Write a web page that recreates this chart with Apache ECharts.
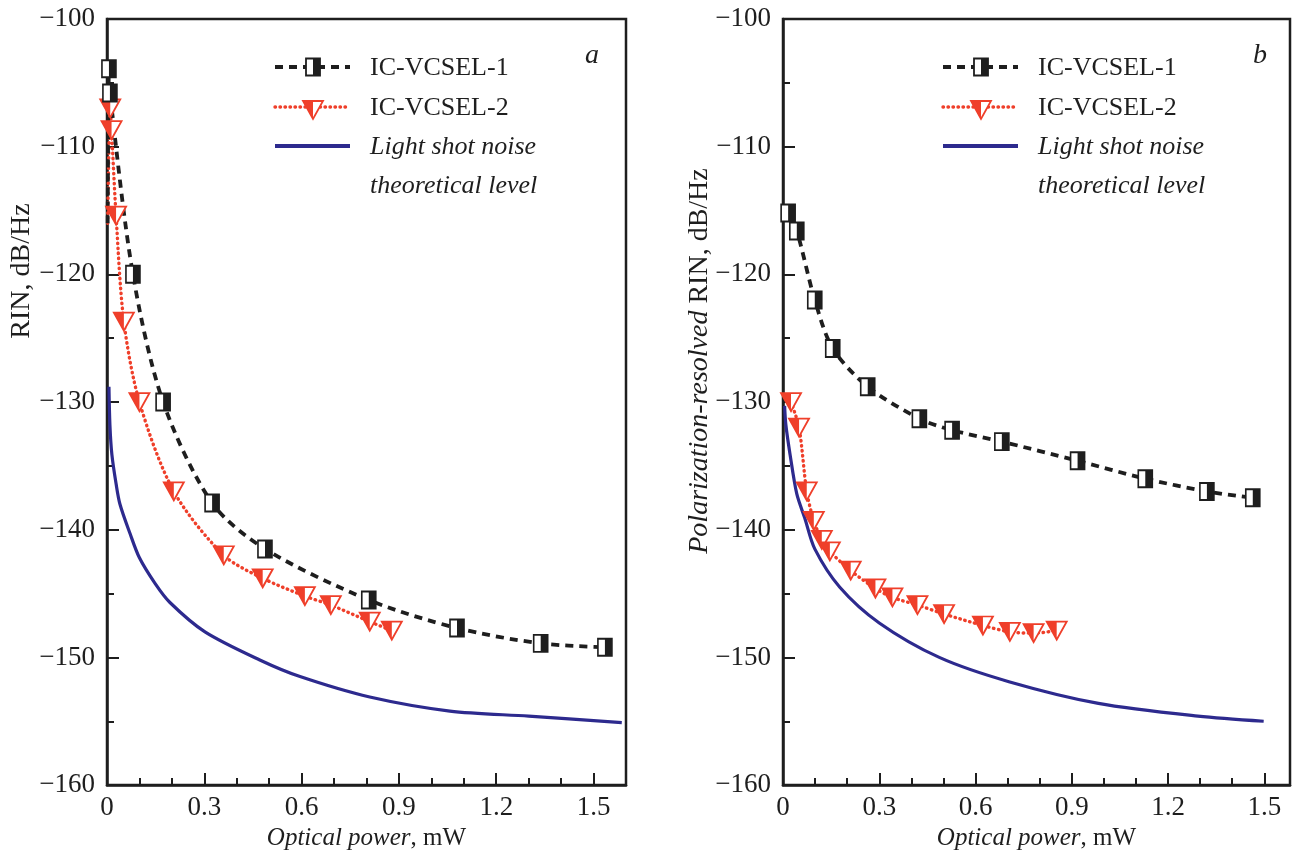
<!DOCTYPE html>
<html>
<head>
<meta charset="utf-8">
<title>RIN vs optical power</title>
<script src="https://cdn.jsdelivr.net/npm/echarts@6/dist/echarts.min.js"></script>
<style>
    html, body { margin: 0; padding: 0; background: #fff; }
    #main { width: 1293px; height: 856px; }
</style>
</head>
<body>
<div id="main"></div>
<script>
// panel a: [optical power mW, RIN dB/Hz]
var leftVcsel1 = [
    [0.006, -103.9], [0.009, -105.8], [0.08, -120.0], [0.173, -130.0], [0.324, -137.9],
    [0.487, -141.5], [0.807, -145.5], [1.079, -147.7], [1.337, -148.9], [1.535, -149.2]
];
var leftVcsel2 = [
    [0.01, -107.0], [0.014, -108.7], [0.028, -115.4], [0.052, -123.7], [0.10, -130.0],
    [0.206, -137.0], [0.36, -142.0], [0.48, -143.8], [0.61, -145.2], [0.69, -145.9],
    [0.81, -147.2], [0.878, -147.9]
];
// fitted curves of panel a start on the axis
var leftLineStart1 = [0.002, -116.0];
var leftLineStart2 = [0.002, -116.0];
var leftShotNoise = [
    [0.006, -128.8], [0.009, -131.8], [0.015, -134.1], [0.028, -136.4], [0.04, -138.0],
    [0.071, -140.3], [0.10, -142.2], [0.148, -144.2], [0.194, -145.7], [0.302, -148.0],
    [0.471, -150.2], [0.595, -151.5], [0.81, -153.1], [1.057, -154.2], [1.30, -154.6],
    [1.587, -155.1]
];

// panel b: [optical power mW, polarization-resolved RIN dB/Hz]
var rightVcsel1 = [
    [0.016, -115.2], [0.043, -116.6], [0.099, -122.0], [0.155, -125.8], [0.264, -128.8],
    [0.425, -131.3], [0.527, -132.2], [0.682, -133.1], [0.918, -134.6], [1.129, -136.0],
    [1.321, -137.0], [1.464, -137.5]
];
var rightVcsel2 = [
    [0.025, -130.0], [0.05, -132.0], [0.074, -137.0], [0.096, -139.3], [0.121, -140.8],
    [0.146, -141.7], [0.211, -143.2], [0.288, -144.6], [0.341, -145.3], [0.419, -145.9],
    [0.502, -146.6], [0.623, -147.5], [0.707, -148.0], [0.781, -148.1], [0.853, -147.9]
];
var rightShotNoise = [
    [0.005, -130.3], [0.009, -131.8], [0.022, -134.1], [0.043, -137.2], [0.068, -139.1],
    [0.099, -141.5], [0.177, -144.5], [0.30, -147.3], [0.487, -150.0], [0.704, -151.9],
    [0.983, -153.6], [1.293, -154.6], [1.498, -155.0]
];

var xMaxLeft = 1.6;
var xMaxRight = 1.58;
var xStep = 0.3;
var xMinorStep = 0.1;
var yMin = -160, yMax = -100, yStep = 10;

var legendNames = ['IC-VCSEL-1', 'IC-VCSEL-2', 'Light shot noise', 'theoretical level'];
var yTitleLeft = 'RIN, dB/Hz';
var yTitleRightItalic = 'Polarization-resolved';
var yTitleRightRest = ' RIN, dB/Hz';

var FONT = '"Liberation Serif", "DejaVu Serif", serif';
var INK = '#1e1e1e';
var RED = '#ef3f2a';
var BLUE = '#2d2a8e';

var SQ = [14, 17];     // square marker size
var TRI = [20, 18];    // triangle marker size
var TRI_PATH = 'path://M0,0 L2,0 L1,2 Z';
var TRI_HALF_PATH = 'path://M0,0 L1,0 L1,2 Z';
var DASH = [8, 6];
var DOTS = [0.5, 4.5];

function xLabel(v) {
    var k = v / xStep;
    if (Math.abs(k - Math.round(k)) > 1e-6) {
        return '';
    }
    return v === 0 ? '0' : v.toFixed(1);
}

function majorX(grid, max) {
    return {
        type: 'value', gridIndex: grid, min: 0, max: max, interval: xStep,
        name: '{i|Optical power}, mW', nameLocation: 'middle', nameGap: 37,
        nameTextStyle: {
            fontFamily: FONT, fontSize: 25, color: INK,
            rich: { i: { fontFamily: FONT, fontSize: 25, fontStyle: 'italic', color: INK } }
        },
        axisLine: { lineStyle: { color: INK, width: 2.5 } },
        axisTick: { inside: true, length: 12, lineStyle: { color: INK, width: 2 } },
        axisLabel: { formatter: xLabel, margin: 9, fontFamily: FONT, fontSize: 27, color: INK },
        splitLine: { show: false }
    };
}

function minorX(grid, max) {
    return {
        type: 'value', gridIndex: grid, min: 0, max: max, interval: xMinorStep, position: 'bottom',
        axisLine: { show: false },
        axisTick: { inside: true, length: 7, lineStyle: { color: INK, width: 2 } },
        axisLabel: { show: false },
        splitLine: { show: false }
    };
}

function yAxisFor(grid) {
    return {
        type: 'value', gridIndex: grid, min: yMin, max: yMax, interval: yStep,
        axisLine: { show: true, lineStyle: { color: INK, width: 2.5 } },
        axisTick: { inside: true, length: 12, lineStyle: { color: INK, width: 2 } },
        minorTick: { show: true, splitNumber: 2, length: 7, lineStyle: { color: INK, width: 2 } },
        axisLabel: {
            margin: 12, fontFamily: FONT, fontSize: 27, color: INK,
            formatter: function (v) { return String(v).replace('-', '\u2212'); }
        },
        splitLine: { show: false }
    };
}

function lineSeries(xi, yi, data, color, width, dash, cap) {
    return {
        type: 'line', xAxisIndex: xi, yAxisIndex: yi, data: data,
        showSymbol: false, symbol: 'none', smooth: 0.3,
        lineStyle: { color: color, width: width, type: dash, cap: cap },
        z: 2, silent: true, animation: false
    };
}

function markerSeries(xi, yi, data, symbol, size, offset, fill, stroke, z) {
    return {
        type: 'scatter', xAxisIndex: xi, yAxisIndex: yi, data: data,
        symbol: symbol, symbolSize: size, symbolOffset: offset,
        itemStyle: { color: fill, borderColor: stroke, borderWidth: stroke ? 1.8 : 0, opacity: 1 },
        z: z, silent: true, animation: false
    };
}

// one panel: two curves with half-filled markers and the shot-noise line
function panelSeries(xi, yi, v1, v1Line, v2, v2Line, noise) {
    return [
        lineSeries(xi, yi, noise, BLUE, 3.2, 'solid', 'butt'),
        lineSeries(xi, yi, v2Line, RED, 3.4, DOTS, 'round'),
        lineSeries(xi, yi, v1Line, INK, 3.8, DASH, 'butt'),
        markerSeries(xi, yi, v2, TRI_PATH, TRI, [0, 0], '#fff', RED, 3),
        markerSeries(xi, yi, v2, TRI_HALF_PATH, [TRI[0] / 2, TRI[1]], [-TRI[0] / 4, 0], RED, null, 4),
        markerSeries(xi, yi, v1, 'rect', SQ, [0, 0], '#fff', INK, 5),
        markerSeries(xi, yi, v1, 'rect', [SQ[0] / 2, SQ[1]], [SQ[0] / 4, 0], INK, null, 6)
    ];
}

// hand drawn legend, same marks as the series
function legendGraphic(x0, tag) {
    var x1 = x0 + 75, xc = x0 + 38, tx = x0 + 95;
    var txt = function (t, y, italic) {
        return {
            type: 'text', x: tx, y: y,
            style: { text: t, fontFamily: FONT, fontSize: 26, fontStyle: italic ? 'italic' : 'normal',
                fill: INK, verticalAlign: 'middle' }
        };
    };
    return [
        { type: 'line', shape: { x1: x0, y1: 67, x2: x1, y2: 67 },
          style: { stroke: INK, lineWidth: 3.8, lineDash: DASH } },
        { type: 'rect', shape: { x: xc - SQ[0] / 2, y: 67 - SQ[1] / 2, width: SQ[0], height: SQ[1] },
          style: { fill: '#fff', stroke: INK, lineWidth: 1.8 } },
        { type: 'rect', shape: { x: xc, y: 67 - SQ[1] / 2, width: SQ[0] / 2, height: SQ[1] },
          style: { fill: INK } },
        { type: 'line', shape: { x1: x0, y1: 107, x2: x1, y2: 107 },
          style: { stroke: RED, lineWidth: 3.4, lineDash: DOTS, lineCap: 'round' } },
        { type: 'polygon', shape: { points: [[xc - 10, 101], [xc + 10, 101], [xc, 119]] },
          style: { fill: '#fff', stroke: RED, lineWidth: 1.8 } },
        { type: 'polygon', shape: { points: [[xc - 10, 101], [xc, 101], [xc, 119]] },
          style: { fill: RED } },
        { type: 'line', shape: { x1: x0, y1: 146, x2: x1, y2: 146 },
          style: { stroke: BLUE, lineWidth: 4 } },
        txt(legendNames[0], 68, false),
        txt(legendNames[1], 108, false),
        txt(legendNames[2], 147, true),
        txt(legendNames[3], 186, true),
        { type: 'text', x: x0 + 317, y: 56,
          style: { text: tag, fontFamily: FONT, fontSize: 28, fontStyle: 'italic', fill: INK,
              align: 'center', verticalAlign: 'middle' } }
    ];
}

var chart = echarts.init(document.getElementById('main'), null, { renderer: 'canvas' });

var option = {
    backgroundColor: '#fff',
    animation: false,
    grid: [
        { left: 107, top: 19, right: 667, bottom: 61, show: true, borderColor: INK, borderWidth: 2.5 },
        { left: 783, top: 19, right: 1, bottom: 61, show: true, borderColor: INK, borderWidth: 2.5 }
    ],
    xAxis: [
        majorX(0, xMaxLeft), minorX(0, xMaxLeft),
        majorX(1, xMaxRight), minorX(1, xMaxRight)
    ],
    yAxis: [yAxisFor(0), yAxisFor(1)],
    series: [].concat(
        panelSeries(0, 0, leftVcsel1, [leftLineStart1].concat(leftVcsel1),
            leftVcsel2, [leftLineStart2].concat(leftVcsel2), leftShotNoise),
        panelSeries(2, 1, rightVcsel1, rightVcsel1, rightVcsel2, rightVcsel2, rightShotNoise)
    ),
    graphic: [].concat(
        legendGraphic(275, 'a'),
        legendGraphic(943, 'b'),
        [
            { type: 'text', x: 22, y: 271, rotation: Math.PI / 2,
              style: { text: yTitleLeft, fontFamily: FONT, fontSize: 28, fill: INK,
                  align: 'center', verticalAlign: 'middle' } },
            { type: 'text', x: 700, y: 361, rotation: Math.PI / 2,
              style: { text: '{i|' + yTitleRightItalic + '}' + yTitleRightRest,
                  fontFamily: FONT, fontSize: 28, fill: INK, align: 'center', verticalAlign: 'middle',
                  rich: { i: { fontFamily: FONT, fontSize: 28, fontStyle: 'italic', fill: INK } } } }
        ]
    )
};

chart.setOption(option);
</script>
</body>
</html>
